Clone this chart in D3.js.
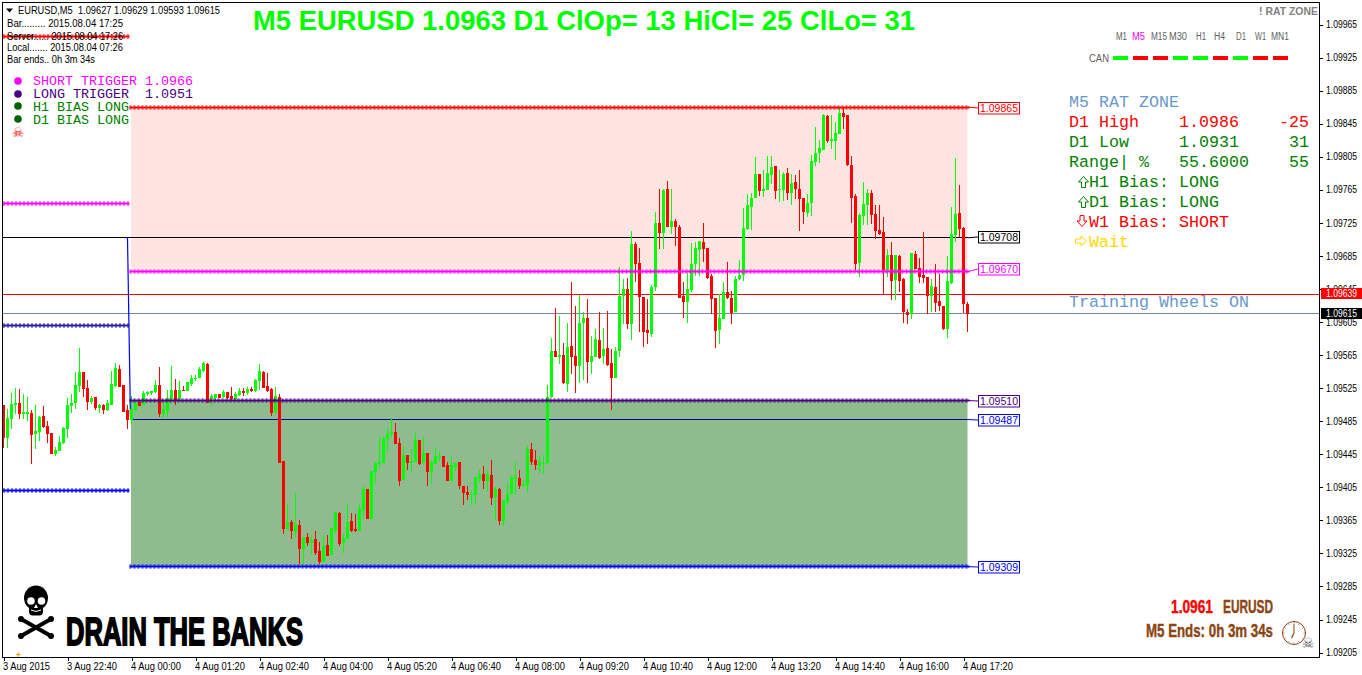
<!DOCTYPE html>
<html>
<head>
<meta charset="utf-8">
<style>html,body{margin:0;padding:0;background:#fff;overflow:hidden}svg{display:block}</style>
<script src="https://cdn.jsdelivr.net/npm/d3@7/dist/d3.min.js"></script>
</head>
<body>
<script>
// Prices are stored in points (0.00001) above 1.09000, e.g. 505 = 1.09505
const PRICE_BASE = 1.09, POINT = 0.00001;
const opens = [
505,465,488,505,507,494,494,495,470,472,
491,479,471,445,449,459,476,503,507,528,
545,525,508,514,501,505,499,505,528,548,
529,499,486,499,508,505,518,519,520,529,
494,497,512,523,512,523,522,530,536,537,
546,554,512,513,518,514,520,516,512,517,
522,519,524,522,534,545,528,524,496,514,
437,355,363,351,360,330,345,338,342,328,
315,335,323,353,374,338,342,364,355,352,
378,403,367,424,433,434,464,470,472,459,
414,444,434,436,462,434,446,424,433,442,
443,432,413,430,436,407,399,396,396,415,
421,413,420,393,403,364,387,397,415,416,
407,408,451,438,431,433,434,514,570,563,
565,530,576,564,552,604,610,557,563,583,
564,574,555,537,570,637,645,603,700,676,
635,595,591,647,725,713,766,720,727,720,
637,629,644,675,692,702,695,661,634,595,
609,641,634,617,657,662,718,744,755,784,
764,765,783,794,765,765,785,761,775,766,
755,737,749,799,810,813,854,824,824,833,
858,855,795,758,676,733,747,761,736,716,
714,668,686,656,685,657,617,615,687,670,
662,659,636,647,630,624,597,652,710,737,
719,627];
const highs = [
505,500,519,525,524,518,514,499,505,491,
503,485,471,454,467,478,513,518,545,574,
545,535,516,514,506,506,511,546,555,553,
529,505,515,510,511,522,522,522,535,551,
511,523,552,536,534,528,533,541,541,551,
557,555,518,518,518,523,520,526,520,525,
525,526,526,536,554,546,543,525,526,518,
437,385,365,398,365,345,350,347,352,339,
346,347,356,375,375,349,385,374,373,385,
407,403,425,436,466,466,477,489,483,465,
455,444,451,471,462,466,446,438,454,449,
443,436,443,434,436,407,407,402,418,426,
431,425,438,405,404,390,410,419,437,426,
414,455,459,450,443,444,529,586,622,612,
580,604,653,624,638,617,633,588,597,617,
598,618,572,575,672,657,658,715,702,695,
635,633,650,738,766,766,776,766,730,723,
654,664,701,702,703,725,695,663,634,639,
653,678,643,661,680,743,760,761,805,784,
789,806,806,794,789,787,791,784,783,789,
755,760,807,841,825,857,855,855,847,865,
865,856,806,760,737,774,766,765,747,747,
732,693,702,686,686,658,621,689,691,682,
714,659,657,675,663,624,685,744,803,771,
720,629];
const lows = [
453,453,476,494,488,488,485,433,451,461,
477,459,445,443,449,457,465,495,500,520,
514,499,506,499,495,494,497,505,526,526,
496,476,482,497,503,505,516,517,519,490,
489,490,510,505,511,522,522,528,534,537,
545,507,503,511,513,513,512,511,511,516,
516,517,520,520,523,525,520,491,494,434,
349,355,343,344,312,312,334,324,323,312,
315,322,323,350,334,326,342,351,351,352,
369,367,367,410,428,434,449,466,458,407,
414,426,424,436,432,434,407,409,433,437,
430,413,413,425,403,384,390,384,384,411,
403,399,383,366,359,358,384,397,396,403,
405,399,432,426,422,421,433,513,563,554,
530,520,542,519,531,535,531,542,563,560,
554,552,499,537,563,603,597,583,653,593,
575,579,587,643,693,693,720,712,697,634,
610,604,641,661,661,678,657,615,574,579,
609,633,603,617,656,655,716,716,755,758,
756,765,772,754,750,752,753,747,754,715,
724,732,733,794,797,813,822,814,801,833,
839,794,725,668,659,722,722,724,706,710,
639,659,632,632,641,604,603,609,669,652,
652,615,617,617,618,595,586,651,702,708,
616,593];
const closes = [
465,489,506,507,494,496,496,468,473,490,
478,470,445,450,460,477,505,507,529,545,
524,508,513,501,505,499,507,530,549,526,
496,486,500,507,503,519,520,522,529,494,
500,513,523,511,523,522,533,537,537,548,
555,507,516,518,513,520,513,512,518,522,
519,524,522,535,546,525,522,495,516,434,
355,363,352,361,330,345,338,341,326,315,
334,322,356,375,337,344,363,352,352,379,
403,367,425,434,436,465,470,472,458,413,
444,434,437,462,433,447,424,436,443,443,
430,413,432,434,406,398,396,397,418,420,
413,421,392,403,364,390,397,418,418,407,
409,451,436,432,436,434,514,570,563,565,
531,575,563,552,604,610,557,564,584,561,
572,553,537,570,637,645,603,700,675,635,
593,592,647,725,713,765,720,727,720,634,
629,645,675,695,703,693,658,633,594,610,
641,634,616,657,662,719,747,755,784,764,
766,785,793,764,766,784,761,773,766,754,
738,749,800,810,816,855,824,826,834,858,
853,795,755,675,734,748,761,734,715,712,
668,686,655,686,655,617,614,689,669,659,
658,636,649,628,624,597,655,712,736,718,
627,615];

const priceTicks = [1.09965,1.09925,1.09885,1.09845,1.09805,1.09765,1.09725,1.09685,1.09645,1.09605,1.09565,1.09525,1.09485,1.09445,1.09405,1.09365,1.09325,1.09285,1.09245,1.09205];
const timeTickBars = [0,16,32,48,64,80,96,112,128,144,160,176,192,208,224,240];
const timeTickLabels = ["3 Aug 2015","3 Aug 22:40","4 Aug 00:00","4 Aug 01:20","4 Aug 02:40","4 Aug 04:00","4 Aug 05:20","4 Aug 06:40","4 Aug 08:00","4 Aug 09:20","4 Aug 10:40","4 Aug 12:00","4 Aug 13:20","4 Aug 14:40","4 Aug 16:00","4 Aug 17:20"];

// shaded zones: [price from, price to, fill]
const zoneFromBar = 32, lastBar = 241;
const zoneBands = [[1.09865,1.09666,"#FFE4E1"],[1.09510,1.09309,"#8FBC8F"]];
// dotted levels of the current session: price, colour
const sessionLevels = [[1.09865,"#FF0000"],[1.09666,"#FF00FF"],[1.09510,"#4B0082"],[1.09309,"#0000FF"]];
// dotted levels of the previous session
const priorLevels = [[1.09950,"#FF0000"],[1.09749,"#FF00FF"],[1.09601,"#2A1AA8"],[1.09401,"#0000FF"]];
const hLines = [[1.09707,"#000000",0],[1.09487,"#0000A0",32]];
// label text price, price of the level it points at, colour
const labelledLevels = [[1.09865,1.09865,"#FF0000"],[1.09708,1.09707,"#000000"],[1.09670,1.09666,"#FF00FF"],[1.09510,1.09510,"#4B0082"],[1.09487,1.09487,"#0000FF"],[1.09309,1.09309,"#0000FF"]];
const bid = 1.09639, last = 1.09615;

const legendRows = [["SHORT TRIGGER 1.0966","#FF00FF"],["LONG TRIGGER  1.0951","#4B0082"],["H1 BIAS LONG","#008000"],["D1 BIAS LONG","#008000"]];
const infoRows = [["Bar......... 2015.08.04 17:25",116],["Server...... 2015.08.04 17:26",116],["Local....... 2015.08.04 07:26",116],["Bar ends.. 0h 3m 34s",88]];
const periods = ["M1","M5","M15","M30","H1","H4","D1","W1","MN1"];
const periodSpan = [[1116,11],[1132,13],[1151,16],[1169,18],[1196,10],[1214,11],[1236,10],[1255,11],[1271,18]];
const canColours = ["#00FF00","#FF0000","#FF0000","#00FF00","#00FF00","#FF0000","#00FF00","#FF0000","#FF0000"];

const W = 1362, H = 675;
const svg = d3.select("body").append("svg").attr("width",W).attr("height",H);
const x = d3.scaleLinear().domain([0,lastBar]).range([3.5,967.5]);
const y = d3.scaleLinear().domain([1.09205,1.09965]).range([652.6,24.5]);
const px = p => y(PRICE_BASE + p*POINT);

const SANS = "'Liberation Sans',Arial,sans-serif", MONO = "'Liberation Mono','Courier New',monospace";
function txt(tx,ty,s,o={}){
  const t = svg.append("text").attr("x",tx).attr("y",ty).text(s)
    .attr("fill",o.fill||"#000").attr("font-family",o.family||SANS).attr("font-size",o.size||10)
    .attr("font-weight",o.weight||"normal").attr("text-anchor",o.anchor||"start")
    .style("white-space","pre");
  if(o.len) t.attr("textLength",o.len).attr("lengthAdjust","spacingAndGlyphs");
  if(o.stroke) t.attr("stroke",o.stroke).attr("stroke-width",o.sw||0.5);
  return t;
}

// zones
svg.append("g").selectAll("rect").data(zoneBands).join("rect")
  .attr("x",x(zoneFromBar)-0.5).attr("width",x(lastBar)-x(zoneFromBar)+0.5)
  .attr("y",d=>y(d[0])).attr("height",d=>y(d[1])-y(d[0])).attr("fill",d=>d[2]);

// horizontal lines
const crisp = v => Math.round(v-0.5)+0.5;
const lines = svg.append("g").attr("shape-rendering","crispEdges");
hLines.forEach(d=>lines.append("line").attr("x1",d[2]?x(d[2])-0.5:3).attr("x2",968).attr("y1",crisp(y(d[0]))).attr("y2",crisp(y(d[0]))).attr("stroke",d[1]));
lines.append("line").attr("class","bid-line").attr("x1",3).attr("x2",1319).attr("y1",crisp(y(bid)+0.8)).attr("y2",crisp(y(bid)+0.8)).style("stroke","#FF0000").style("stroke-width",1);
lines.append("line").attr("x1",3).attr("x2",1319).attr("y1",crisp(y(last))).attr("y2",crisp(y(last))).attr("stroke","#778899");

// blue connector at the session change
svg.append("path").attr("fill","none").attr("stroke","#0000FF").attr("stroke-width",1.2)
  .attr("d",d3.line()([[x(31),y(1.09707)],[x(32)-1,y(1.09487)]]));

// candles
const idx = d3.range(opens.length);
const colourOf = i => closes[i]>=opens[i] ? "#00FF00" : "#FF0000";
const c = svg.append("g").attr("shape-rendering","crispEdges");
c.selectAll("rect.w").data(idx).join("rect").attr("class","w")
  .attr("x",i=>x(i)-0.5).attr("width",1)
  .attr("y",i=>px(highs[i])).attr("height",i=>px(lows[i])-px(highs[i])).attr("fill",colourOf);
c.selectAll("rect.b").data(idx).join("rect").attr("class","b")
  .attr("x",i=>x(i)-1.5).attr("width",3)
  .attr("y",i=>px(Math.max(opens[i],closes[i])))
  .attr("height",i=>Math.max(1,Math.abs(px(opens[i])-px(closes[i])))).attr("fill",colourOf);

// dotted levels
function dotted(x1,x2,price,col){
  const g = svg.append("g");
  const yy = crisp(y(price));
  g.append("line").attr("x1",x1).attr("x2",x2).attr("y1",yy).attr("y2",yy)
    .attr("stroke",col).attr("stroke-opacity",0.5).attr("stroke-width",5).attr("stroke-dasharray","2 2");
  g.append("line").attr("x1",x1).attr("x2",x2).attr("y1",yy).attr("y2",yy)
    .attr("stroke",col).attr("stroke-width",2);
}
sessionLevels.forEach(d=>dotted(x(zoneFromBar)-2,x(lastBar)+2,d[0],d[1]));
priorLevels.forEach(d=>dotted(3,x(31)+2,d[0],d[1]));

// labelled price boxes
labelledLevels.forEach(d=>{
  const boxTop = crisp(y(d[0])-5);
  svg.append("line").attr("x1",968).attr("x2",978).attr("y1",y(d[1])).attr("y2",boxTop+5.5).attr("stroke",d[2]);
  svg.append("rect").attr("x",978.5).attr("y",boxTop).attr("width",41).attr("height",11.5).attr("fill","#fff").attr("stroke",d[2]);
  txt(980,boxTop+9.5,d3.format(".5f")(d[0]),{fill:d[2],size:10.5,len:38});
});

// frame + axes
const frame = svg.append("g").attr("shape-rendering","crispEdges");
frame.append("rect").attr("x",2.5).attr("y",2.5).attr("width",1317).attr("height",655).attr("fill","none").attr("stroke","#000");
const ya = svg.append("g").attr("transform","translate(1320,0)").attr("shape-rendering","crispEdges")
  .call(d3.axisRight(y).tickValues(priceTicks).tickSize(3).tickFormat(d3.format(".5f")));
ya.select(".domain").remove();
ya.selectAll("text").attr("x",6).attr("font-family",SANS).attr("font-size",10).attr("textLength",31).attr("lengthAdjust","spacingAndGlyphs").attr("fill","#000");
const xa = svg.append("g").attr("transform","translate(0,658)").attr("shape-rendering","crispEdges")
  .call(d3.axisBottom(x).tickValues(timeTickBars).tickSize(3).tickFormat((d,i)=>timeTickLabels[i]));
xa.select(".domain").remove();
xa.selectAll("text").attr("text-anchor","start").attr("x",-1).attr("y",5).attr("font-family",SANS).attr("font-size",10).attr("fill","#000")
  .attr("textLength",(d,i)=>i?50:47).attr("lengthAdjust","spacingAndGlyphs");

// current price boxes
[[bid,"#FF0000"],[last,"#000000"]].forEach(d=>{
  const top = Math.round(y(d[0]))-6;
  svg.append("rect").attr("x",1321).attr("y",top).attr("width",41).attr("height",11).attr("fill",d[1]);
  txt(1326,top+9,d3.format(".5f")(d[0]),{fill:"#fff",size:10,len:31});
});

// header
svg.append("path").attr("d","M6 8.5H13L9.5 12.5Z").attr("fill","#000");
txt(18,14,"EURUSD,M5  1.09627 1.09629 1.09593 1.09615",{size:10.5,len:202});
infoRows.forEach((r,i)=>txt(7,[27,39.5,51,63][i],r[0],{size:10,len:r[1]}));

// title
txt(253,30,"M5 EURUSD 1.0963 D1 ClOp= 13 HiCl= 25 ClLo= 31",{fill:"#00FF00",size:27,weight:"bold",len:662});

// legend
legendRows.forEach((r,i)=>{
  const by = 85+13*i;
  svg.append("circle").attr("cx",18).attr("cy",by-4-(i>1?1:0)).attr("r",3.8).attr("fill",r[1]==="#008000"?"#006400":r[1]);
  txt(33,by,r[0],{fill:r[1],family:MONO,size:13.33});
});
txt(18,137,"\u2620",{fill:"#FF0000",family:"'DejaVu Sans'",size:13,anchor:"middle"});

// top right
txt(1259,15,"! RAT ZONE",{fill:"#808080",size:10.5,weight:"bold",len:59});
periods.forEach((p,i)=>txt(periodSpan[i][0],40,p,{fill:p==="M5"?"#FF00FF":"#606060",size:10,len:periodSpan[i][1]}));
txt(1089,62,"CAN",{fill:"#606060",size:10,len:20});
const canBars = svg.append("g").attr("shape-rendering","crispEdges");
canColours.forEach((col,i)=>canBars.append("rect").attr("x",1113+20*i).attr("y",56).attr("width",15).attr("height",4).attr("fill",col));

// rat zone panel
const STEEL="#6699CC", GREEN="#008000", RED="#FF0000", GOLD="#FFD700";
const m={family:MONO,size:16.67};
txt(1069,107,"M5 RAT ZONE",{...m,fill:STEEL});
txt(1069,127,"D1 High",{...m,fill:RED}); txt(1179,127,"1.0986",{...m,fill:RED}); txt(1309,127,"-25",{...m,fill:RED,anchor:"end"});
txt(1069,147,"D1 Low",{...m,fill:GREEN}); txt(1179,147,"1.0931",{...m,fill:GREEN}); txt(1309,147,"31",{...m,fill:GREEN,anchor:"end"});
txt(1069,167,"Range| %",{...m,fill:GREEN}); txt(1179,167,"55.6000",{...m,fill:GREEN}); txt(1309,167,"55",{...m,fill:GREEN,anchor:"end"});
// outlined block arrows (up shape, rotated as needed)
function arrow(cx,cy,rot,col){
  svg.append("path").attr("d","M0 -5.5 L5 0 H2 V5.5 H-2 V0 H-5 Z")
    .attr("transform",`translate(${cx},${cy}) rotate(${rot})`)
    .attr("fill","none").attr("stroke",col).attr("stroke-width",1);
}
txt(1089,187,"H1 Bias: LONG",{...m,fill:GREEN}); arrow(1083.5,182,0,GREEN);
txt(1089,207,"D1 Bias: LONG",{...m,fill:GREEN}); arrow(1083.5,202,0,GREEN);
txt(1089,227,"W1 Bias: SHORT",{...m,fill:RED}); arrow(1082,221,180,RED);
txt(1089,247,"Wait",{...m,fill:GOLD}); arrow(1081,241,90,GOLD);
txt(1069,307,"Training Wheels ON",{...m,fill:STEEL});

// bottom right
const BROWN="#8B4513";
txt(1171,613,"1.0961",{fill:RED,size:18,weight:"bold",len:42,stroke:RED,sw:0.4});
txt(1223,613,"EURUSD",{fill:BROWN,size:18,weight:"bold",len:50,stroke:BROWN,sw:0.4});
txt(1146,637,"M5 Ends: 0h 3m 34s",{fill:BROWN,size:18,weight:"bold",len:127,stroke:BROWN,sw:0.4});
const ck = svg.append("g").attr("transform","translate(1294,633)").attr("fill","none").attr("stroke",BROWN);
ck.append("circle").attr("r",11.5).attr("stroke-width",1);
d3.range(12).forEach(k=>{const a=k*Math.PI/6;ck.append("line").attr("x1",9.5*Math.sin(a)).attr("y1",-9.5*Math.cos(a)).attr("x2",10.8*Math.sin(a)).attr("y2",-10.8*Math.cos(a)).attr("stroke-width",0.7);});
ck.append("line").attr("x1",0).attr("y1",0).attr("x2",0).attr("y2",-9).attr("stroke-width",1);
ck.append("line").attr("x1",0).attr("y1",0).attr("x2",-2.5).attr("y2",5).attr("stroke-width",1.2);
txt(1308,648,"\u2620",{fill:"#555",family:"'DejaVu Sans'",size:14,anchor:"middle"});

// skull logo
const sk = svg.append("g");
sk.append("ellipse").attr("cx",36).attr("cy",598).attr("rx",12).attr("ry",12.5).attr("fill","#000");
sk.append("rect").attr("x",29).attr("y",604).attr("width",14).attr("height",11.5).attr("rx",4).attr("fill","#000");
sk.append("circle").attr("cx",31).attr("cy",601).attr("r",3.8).attr("fill","#fff");
sk.append("circle").attr("cx",41.5).attr("cy",601).attr("r",3.8).attr("fill","#fff");
sk.append("path").attr("d","M36 604 L34 608 H38 Z").attr("fill","#fff");
sk.append("path").attr("d","M31 610 Q36 613 41 610").attr("stroke","#fff").attr("fill","none");
[[21,619,51,636],[51,619,21,636]].forEach(b=>{
  sk.append("line").attr("x1",b[0]).attr("y1",b[1]).attr("x2",b[2]).attr("y2",b[3]).attr("stroke","#000").attr("stroke-width",4);
  [[b[0],b[1]],[b[2],b[3]]].forEach(e=>sk.append("circle").attr("cx",e[0]).attr("cy",e[1]).attr("r",3).attr("fill","#000"));
});
txt(66,645,"DRAIN THE BANKS",{size:39,weight:"bold",len:237,stroke:"#000",sw:1.8});
txt(18.5,658,"+",{fill:"#FF9900",size:9,weight:"bold",anchor:"middle"});
</script>
</body>
</html>
